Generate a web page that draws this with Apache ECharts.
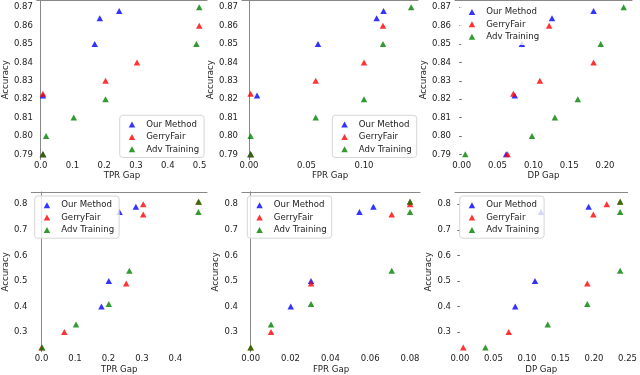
<!DOCTYPE html>
<html><head><meta charset="utf-8">
<script src="https://cdn.jsdelivr.net/npm/echarts@6.0.0/dist/echarts.min.js"></script>
<style>html,body{margin:0;padding:0;background:#fff}#c{width:640px;height:375px}</style>
</head><body><div id="c"></div>
<script>
// ---------- data ----------
const methodNames = ['Our Method', 'GerryFair', 'Adv Training'];

// top row (accuracy shared by TPR / FPR / DP panels)
const ourAccTop   = [0.868, 0.864, 0.850, 0.822, 0.790];
const gerryAccTop = [0.860, 0.840, 0.830, 0.823, 0.790];
const advAccTop   = [0.870, 0.850, 0.820, 0.810, 0.800, 0.790];

const ourTPRTop   = [0.247, 0.186, 0.170, 0.007, 0.007];
const gerryTPRTop = [0.499, 0.303, 0.204, 0.007, 0.007];
const advTPRTop   = [0.499, 0.490, 0.204, 0.104, 0.017, 0.007];

const ourFPRTop   = [0.117, 0.111, 0.060, 0.007, 0.0014];
const gerryFPRTop = [0.1165, 0.100, 0.058, 0.0014, 0.0014];
const advFPRTop   = [0.141, 0.1165, 0.100, 0.058, 0.0014, 0.0014];

const ourDPTop    = [0.184, 0.126, 0.084, 0.074, 0.062];
const gerryDPTop  = [0.122, 0.184, 0.109, 0.072, 0.064];
const advDPTop    = [0.226, 0.194, 0.162, 0.130, 0.098, 0.005];

// bottom row
const ourAccBot   = [0.77, 0.79, 0.50, 0.40];
const gerryAccBot = [0.81, 0.80, 0.76, 0.49, 0.30, 0.24];
const advAccBot   = [0.81, 0.77, 0.54, 0.41, 0.33, 0.24];

const ourTPRBot   = [0.233, 0.282, 0.201, 0.179];
const gerryTPRBot = [0.469, 0.304, 0.304, 0.253, 0.068, 0.0];
const advTPRBot   = [0.470, 0.469, 0.2625, 0.201, 0.103, 0.002];

const ourFPRBot   = [0.0546, 0.0616, 0.0303, 0.0201];
const gerryFPRBot = [0.080, 0.080, 0.0708, 0.0303, 0.0102, 0.0];
const advFPRBot   = [0.080, 0.080, 0.0708, 0.0303, 0.0102, 0.0];

const ourDPBot    = [0.121, 0.192, 0.112, 0.0825];
const gerryDPBot  = [0.239, 0.219, 0.199, 0.190, 0.0728, 0.005];
const advDPBot    = [0.239, 0.239, 0.239, 0.190, 0.131, 0.038];

// tick labels
const accTicksTop = [0.79, 0.80, 0.81, 0.82, 0.83, 0.84, 0.85, 0.86, 0.87];
const accTicksBot = [0.3, 0.4, 0.5, 0.6, 0.7, 0.8];
const tprTicksTop = [0.0, 0.1, 0.2, 0.3, 0.4, 0.5];
const fprTicksTop = [0.00, 0.05, 0.10];
const dpTicksTop  = [0.00, 0.05, 0.10, 0.15, 0.20];
const tprTicksBot = [0.0, 0.1, 0.2, 0.3, 0.4];
const fprTicksBot = [0.00, 0.02, 0.04, 0.06, 0.08];
const dpTicksBot  = [0.00, 0.05, 0.10, 0.15, 0.20, 0.25];

// ---------- layout / style ----------
const colors = ['#0000ff', '#ff0000', '#008000'];
const FONT = 'DejaVu Sans';
const TXT = '#222';
const SPINE = '#888';

const topRow = {top: 0, height: 159.5, ymin: 0.78717, ymax: 0.87397, yTicks: accTicksTop, yDec: 2, xNameGap: 12.2};
const botRow = {top: 192, height: 160.5, ymin: 0.2229, ymax: 0.8479, yTicks: accTicksBot, yDec: 1, xNameGap: 13.2};

const panels = [
  {row: topRow, left: 32, width: 175, xmin: -0.01224, xmax: 0.52341, xTicks: tprTicksTop, xDec: 1, xName: 'TPR Gap',
   xs: [ourTPRTop, gerryTPRTop, advTPRTop], ys: [ourAccTop, gerryAccTop, advAccTop],
   leftSpine: true, rightSpine: false, yTick: false, yNameGap: 23, legend: {left: 126.7, top: 115.3, border: true}},
  {row: topRow, left: 242, width: 176, xmin: -0.006087, xmax: 0.146957, xTicks: fprTicksTop, xDec: 2, xName: 'FPR Gap',
   xs: [ourFPRTop, gerryFPRTop, advFPRTop], ys: [ourAccTop, gerryAccTop, advAccTop],
   leftSpine: true, rightSpine: true, yTick: false, yNameGap: 21.4, legend: {left: 339.3, top: 115.3, border: true}},
  {row: topRow, left: 455, width: 177, xmin: -0.009349, xmax: 0.237617, xTicks: dpTicksTop, xDec: 2, xName: 'DP Gap',
   xs: [ourDPTop, gerryDPTop, advDPTop], ys: [ourAccTop, gerryAccTop, advAccTop],
   leftSpine: false, rightSpine: false, yTick: true, yNameGap: 21.7, legend: {left: 466.7, top: 2.7, border: false}},
  {row: botRow, left: 29, width: 178, xmin: -0.030383, xmax: 0.49469, xTicks: tprTicksBot, xDec: 1, xName: 'TPR Gap',
   xs: [ourTPRBot, gerryTPRBot, advTPRBot], ys: [ourAccBot, gerryAccBot, advAccBot],
   leftSpine: true, rightSpine: false, yTick: false, yNameGap: 15.9, legend: {left: 41.7, top: 196, border: true}},
  {row: botRow, left: 242, width: 178, xmin: -0.004368, xmax: 0.085003, xTicks: fprTicksBot, xDec: 2, xName: 'FPR Gap',
   xs: [ourFPRBot, gerryFPRBot, advFPRBot], ys: [ourAccBot, gerryAccBot, advAccBot],
   leftSpine: true, rightSpine: true, yTick: false, yNameGap: 16.7, legend: {left: 254.3, top: 196, border: true}},
  {row: botRow, left: 455, width: 177, xmin: -0.007267, xmax: 0.25, xTicks: dpTicksBot, xDec: 2, xName: 'DP Gap',
   xs: [ourDPBot, gerryDPBot, advDPBot], ys: [ourAccBot, gerryAccBot, advAccBot],
   leftSpine: false, rightSpine: false, yTick: true, yNameGap: 16.7, legend: {left: 466.7, top: 196, border: true}}
];

const grid = [], xAxis = [], yAxis = [], series = [], legend = [];
const labelStyle = {fontFamily: FONT, fontSize: 8.5, color: TXT};

panels.forEach((p, i) => {
  grid.push({left: p.left, top: p.row.top, width: p.width, height: p.row.height, containLabel: false});
  xAxis.push({
    type: 'value', gridIndex: i, min: p.xmin, max: p.xmax, position: 'bottom',
    name: p.xName, nameLocation: 'middle', nameGap: p.row.xNameGap,
    nameTextStyle: {fontFamily: FONT, fontSize: 8.6, color: TXT, verticalAlign: 'top'},
    axisLine: {show: false}, splitLine: {show: false},
    axisTick: {show: false},
    axisLabel: {customValues: p.xTicks, formatter: v => v.toFixed(p.xDec), margin: 2, ...labelStyle}
  });
  yAxis.push({
    type: 'value', gridIndex: i, min: p.row.ymin, max: p.row.ymax, position: 'left',
    name: 'Accuracy', nameLocation: 'middle', nameGap: p.yNameGap, nameRotate: 90,
    nameTextStyle: {fontFamily: FONT, fontSize: 8.6, color: TXT},
    axisLine: {show: p.leftSpine, lineStyle: {color: SPINE, width: 1}},
    splitLine: {show: false},
    axisTick: {show: p.yTick, customValues: p.row.yTicks, length: 2.5, lineStyle: {color: '#666'}},
    axisLabel: {customValues: p.row.yTicks, formatter: v => v.toFixed(p.row.yDec), margin: 4, ...labelStyle}
  });
  methodNames.forEach((name, m) => {
    series.push({
      type: 'scatter', name: name, xAxisIndex: i, yAxisIndex: i,
      data: p.xs[m].map((x, k) => [x, p.ys[m][k]]),
      symbol: 'triangle', symbolSize: [6.5, 6],
      itemStyle: {color: colors[m]}, silent: true, z: 2 + m
    });
  });
  legend.push({
    data: methodNames, orient: 'vertical', left: p.legend.left - 7, top: p.legend.top,
    icon: 'triangle', itemWidth: 6.5, itemHeight: 6, itemGap: 0,
    padding: [3, 5, 2, 9], selectedMode: false,
    textStyle: {fontFamily: FONT, fontSize: 8.6, color: TXT, lineHeight: 12.4, padding: [0, 0, 0, 6]},
    borderColor: p.legend.border ? '#d6d6d6' : 'transparent', borderWidth: 1, borderRadius: 3,
    backgroundColor: 'rgba(255,255,255,0.8)'
  });
});
// spine decoration axes
panels.forEach((p, i) => {
  xAxis.push({type: 'value', gridIndex: i, min: p.xmin, max: p.xmax, position: 'top',
    axisLine: {show: true, lineStyle: {color: SPINE, width: 1}}, axisTick: {show: false},
    axisLabel: {show: false}, splitLine: {show: false}});
  if (p.rightSpine) {
    yAxis.push({type: 'value', gridIndex: i, min: p.row.ymin, max: p.row.ymax, position: 'right',
      axisLine: {show: true, lineStyle: {color: SPINE, width: 1}}, axisTick: {show: false},
      axisLabel: {show: false}, splitLine: {show: false}});
  }
});

const chart = echarts.init(document.getElementById('c'), null, {renderer: 'canvas'});
chart.setOption({animation: false, backgroundColor: '#fff', grid, xAxis, yAxis, series, legend});
</script></body></html>
